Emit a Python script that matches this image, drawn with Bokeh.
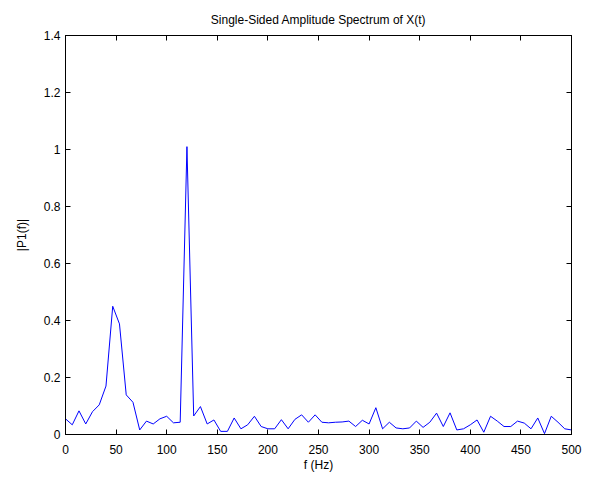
from bokeh.plotting import figure
from bokeh.models import Range1d, LinearAxis, FixedTicker, ColumnDataSource
from bokeh.embed import file_html
from bokeh.resources import INLINE

# Frequency bins (Hz), Fs = 1000, L = 150
freq = [0.0, 6.67, 13.33, 20.0, 26.67, 33.33, 40.0, 46.67, 53.33, 60.0,
        66.67, 73.33, 80.0, 86.67, 93.33, 100.0, 106.67, 113.33, 120.0, 126.67,
        133.33, 140.0, 146.67, 153.33, 160.0, 166.67, 173.33, 180.0, 186.67, 193.33,
        200.0, 206.67, 213.33, 220.0, 226.67, 233.33, 240.0, 246.67, 253.33, 260.0,
        266.67, 273.33, 280.0, 286.67, 293.33, 300.0, 306.67, 313.33, 320.0, 326.67,
        333.33, 340.0, 346.67, 353.33, 360.0, 366.67, 373.33, 380.0, 386.67, 393.33,
        400.0, 406.67, 413.33, 420.0, 426.67, 433.33, 440.0, 446.67, 453.33, 460.0,
        466.67, 473.33, 480.0, 486.67, 493.33, 500.0]

# Single-sided amplitude |P1(f)|
amplitude = [0.055, 0.034, 0.083, 0.037, 0.080, 0.104, 0.170, 0.450, 0.388, 0.139,
             0.113, 0.016, 0.047, 0.037, 0.055, 0.064, 0.041, 0.043, 1.010, 0.065,
             0.098, 0.037, 0.051, 0.011, 0.011, 0.058, 0.020, 0.034, 0.064, 0.028,
             0.020, 0.020, 0.052, 0.020, 0.053, 0.069, 0.043, 0.069, 0.043, 0.041,
             0.043, 0.044, 0.047, 0.028, 0.050, 0.037, 0.094, 0.020, 0.043, 0.023,
             0.020, 0.023, 0.047, 0.025, 0.043, 0.075, 0.028, 0.076, 0.016, 0.020,
             0.034, 0.051, 0.008, 0.064, 0.047, 0.028, 0.028, 0.047, 0.040, 0.020,
             0.058, 0.003, 0.064, 0.043, 0.020, 0.016]

x_ticks = [0, 50, 100, 150, 200, 250, 300, 350, 400, 450, 500]
y_ticks = [0, 0.2, 0.4, 0.6, 0.8, 1.0, 1.2, 1.4]
y_tick_labels = ["0", "0.2", "0.4", "0.6", "0.8", "1", "1.2", "1.4"]

FONT = "Liberation Sans"

p = figure(width=599, height=477, output_backend="svg", toolbar_location=None,
           x_range=Range1d(0, 500), y_range=Range1d(0, 1.4),
           x_axis_label="f (Hz)", y_axis_label="|P1(f)|",
           min_border_left=65, min_border_right=28, min_border_top=35, min_border_bottom=43)

p.title.text = "Single-Sided Amplitude Spectrum of X(t)"
p.title.align = "center"
p.title.text_font = FONT
p.title.text_font_size = "12px"
p.title.text_font_style = "normal"
p.title.text_color = "black"
p.title.standoff = 17

src = ColumnDataSource(dict(f=freq, a=amplitude))
p.line("f", "a", source=src, line_color="#0000ff", line_width=1)

p.xgrid.visible = False
p.ygrid.visible = False
p.outline_line_color = "black"
p.outline_line_width = 1
p.background_fill_color = "white"
p.border_fill_color = "white"

# extra axes (top and right) with ticks only
top_axis = LinearAxis()
right_axis = LinearAxis()
p.add_layout(top_axis, "above")
p.add_layout(right_axis, "right")

bottom_axis = p.below[0]
left_axis = p.left[0]

for ax in (bottom_axis, top_axis):
    ax.ticker = FixedTicker(ticks=x_ticks)
for ax in (left_axis, right_axis):
    ax.ticker = FixedTicker(ticks=y_ticks)
    ax.major_label_overrides = dict(zip(y_ticks, y_tick_labels))

for ax in (bottom_axis, top_axis, left_axis, right_axis):
    ax.axis_line_color = "black"
    ax.major_tick_line_color = "black"
    ax.major_tick_in = 5
    ax.major_tick_out = 0
    ax.minor_tick_line_color = None
    ax.major_label_text_font = FONT
    ax.major_label_text_font_size = "12px"
    ax.major_label_text_color = "black"
    ax.axis_label_text_font = FONT
    ax.axis_label_text_font_size = "12px"
    ax.axis_label_text_font_style = "normal"
    ax.axis_label_text_color = "black"

top_axis.major_label_text_color = None
top_axis.major_label_standoff = 0
right_axis.major_label_text_color = None
right_axis.major_label_standoff = 0

bottom_axis.major_label_standoff = 10
bottom_axis.axis_label_standoff = 1
left_axis.major_label_standoff = 5
left_axis.axis_label_standoff = 12

open("out.html", "w").write(file_html(p, INLINE))
